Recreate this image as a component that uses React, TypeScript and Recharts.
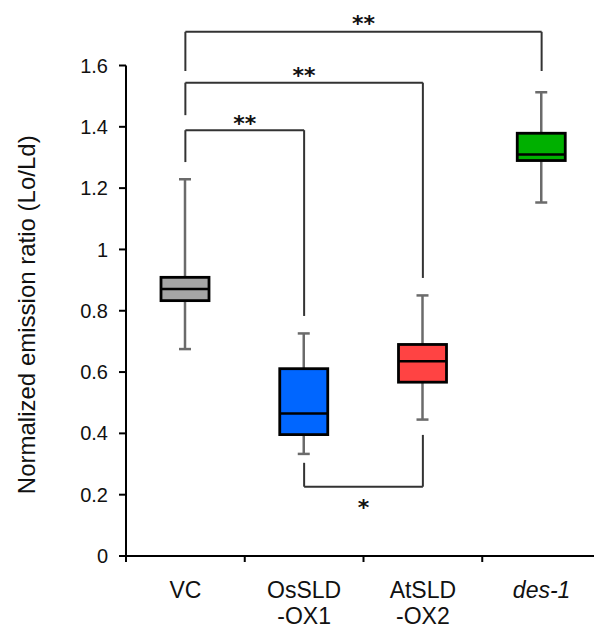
import React from 'react';
import { ComposedChart, Bar, XAxis, YAxis, ReferenceLine } from 'recharts';

// ---------------- data ----------------
const categories = ['VC', 'OsSLD-OX1', 'AtSLD-OX2', 'des-1'];
const tickLabels = [['VC'], ['OsSLD', '-OX1'], ['AtSLD', '-OX2'], ['des-1']];
const whiskerLow = [0.675, 0.333, 0.445, 1.153];
const quartile1 = [0.833, 0.396, 0.567, 1.29];
const medians = [0.871, 0.465, 0.635, 1.31];
const quartile3 = [0.909, 0.611, 0.69, 1.379];
const whiskerHigh = [1.229, 0.726, 0.85, 1.513];
const yTicks = [0, 0.2, 0.4, 0.6, 0.8, 1, 1.2, 1.4, 1.6];

// significance brackets: horizontal level, leg ends, mark
const bracketFrom = ['VC', 'VC', 'VC', 'OsSLD-OX1'];
const bracketTo = ['des-1', 'AtSLD-OX2', 'OsSLD-OX1', 'AtSLD-OX2'];
const bracketLevel = [1.71, 1.544, 1.389, 0.226];
const bracketFromEnd = [1.582, 1.438, 1.285, 0.304];
const bracketToEnd = [1.582, 0.907, 0.783, 0.395];
const bracketMark = ['**', '**', '**', '*'];

// ---------------- styles ----------------
const BOX_COLORS = ['#a5a5a5', '#0066ff', '#ff4343', '#00b000'];
const LABEL_GAP = [1, 0, -1, -28];
const FONT = '"Liberation Sans", Arial, sans-serif';

const data = categories.map((name, i) => ({
  name,
  range: [whiskerLow[i], whiskerHigh[i]],
  min: whiskerLow[i],
  q1: quartile1[i],
  median: medians[i],
  q3: quartile3[i],
  max: whiskerHigh[i],
}));

const BoxShape = (props: any) => {
  const { x, y, width, height, payload, index } = props;
  if (!payload || height == null) return null;
  const { min, q1, median, q3, max } = payload;
  const ppu = height / (max - min);
  const yOf = (v: number) => y + (max - v) * ppu;
  const cx = x + width / 2;
  const cap = 6;
  return (
    <g>
      <line x1={cx} x2={cx} y1={yOf(max)} y2={yOf(min)} stroke="#6b6b6b" strokeWidth={2.5} />
      <line x1={cx - cap} x2={cx + cap} y1={yOf(max)} y2={yOf(max)} stroke="#6b6b6b" strokeWidth={2.5} />
      <line x1={cx - cap} x2={cx + cap} y1={yOf(min)} y2={yOf(min)} stroke="#6b6b6b" strokeWidth={2.5} />
      <rect
        x={x}
        y={yOf(q3)}
        width={width}
        height={yOf(q1) - yOf(q3)}
        fill={BOX_COLORS[index % BOX_COLORS.length]}
        stroke="#000"
        strokeWidth={2.8}
      />
      <line x1={x} x2={x + width} y1={yOf(median)} y2={yOf(median)} stroke="#000" strokeWidth={2.5} />
    </g>
  );
};

// Category tick: label at the band centre, short tick mark at the band's left boundary
const CategoryTick = (props: any) => {
  const { x, y, payload, width, visibleTicksCount } = props;
  const half =
    payload && typeof payload.offset === 'number' && payload.offset > 0
      ? payload.offset
      : width && visibleTicksCount
      ? width / visibleTicksCount / 2
      : 0;
  const idx = categories.indexOf(payload.value);
  const lines = tickLabels[idx] || [payload.value];
  const italic = payload.value === 'des-1';
  return (
    <g>
      <line x1={x - half} x2={x - half} y1={y} y2={y + 6} stroke="#000" strokeWidth={2} />
      {lines.map((l, i) => (
        <text
          key={i}
          x={x}
          y={y + 42 + i * 26}
          textAnchor="middle"
          fontFamily={FONT}
          fontSize={23}
          fill="#111"
          fontStyle={italic ? 'italic' : 'normal'}
        >
          {l}
        </text>
      ))}
    </g>
  );
};

const makeMarkLabel = (mark: string, gap: number) => (p: any) => {
  const vb = p.viewBox || {};
  if (vb.x == null) return null;
  const cx = vb.x + (vb.width || 0) / 2;
  return (
    <text
      x={cx}
      y={vb.y - gap}
      textAnchor="middle"
      fontFamily='"DejaVu Sans", sans-serif'
      fontSize={22}
      fontWeight="bold"
      fill="#111"
    >
      {mark}
    </text>
  );
};

const YTitle = (p: any) => {
  const vb = p.viewBox || { y: 65, height: 490 };
  const cy = vb.y + vb.height / 2 + 4;
  return (
    <text
      transform={`translate(26, ${cy}) rotate(-90)`}
      textAnchor="middle"
      dominantBaseline="central"
      fontFamily={FONT}
      fontSize={24}
      fill="#111"
    >
      Normalized emission ratio (Lo/Ld)
    </text>
  );
};

export default function App() {
  const lineProps = { stroke: '#333', strokeWidth: 2, ifOverflow: 'visible' as const };
  return (
    <div
      style={{
        position: 'absolute',
        left: 0,
        top: 0,
        width: 594,
        height: 628,
        overflow: 'hidden',
        background: '#fff',
      }}
    >
      <ComposedChart
        width={610}
        height={628}
        data={data}
        margin={{ top: 65.5, right: 9, bottom: 12, left: 0 }}
      >
        <XAxis
          dataKey="name"
          type="category"
          height={60}
          interval={0}
          axisLine={{ stroke: '#000', strokeWidth: 2 }}
          tickLine={false}
          tickSize={0}
          tickMargin={0}
          tick={<CategoryTick />}
        />
        <YAxis
          width={126}
          domain={[0, 1.6]}
          ticks={yTicks}
          allowDataOverflow
          axisLine={{ stroke: '#000', strokeWidth: 2 }}
          tickLine={{ stroke: '#000', strokeWidth: 2 }}
          tickSize={7}
          tickMargin={11}
          tick={{ fontFamily: FONT, fontSize: 20, fill: '#111' }}
          tickFormatter={(v: number) => String(v)}
          label={{ content: YTitle } as any}
        />
        <Bar dataKey="range" barSize={48} shape={<BoxShape />} isAnimationActive={false} />
        {bracketLevel.map((lvl, i) => (
          <React.Fragment key={i}>
            <ReferenceLine
              {...lineProps}
              segment={[
                { x: bracketFrom[i], y: lvl },
                { x: bracketTo[i], y: lvl },
              ]}
              label={{ content: makeMarkLabel(bracketMark[i], LABEL_GAP[i]) } as any}
            />
            <ReferenceLine
              {...lineProps}
              segment={[
                { x: bracketFrom[i], y: lvl },
                { x: bracketFrom[i], y: bracketFromEnd[i] },
              ]}
            />
            <ReferenceLine
              {...lineProps}
              segment={[
                { x: bracketTo[i], y: lvl },
                { x: bracketTo[i], y: bracketToEnd[i] },
              ]}
            />
          </React.Fragment>
        ))}
      </ComposedChart>
    </div>
  );
}
